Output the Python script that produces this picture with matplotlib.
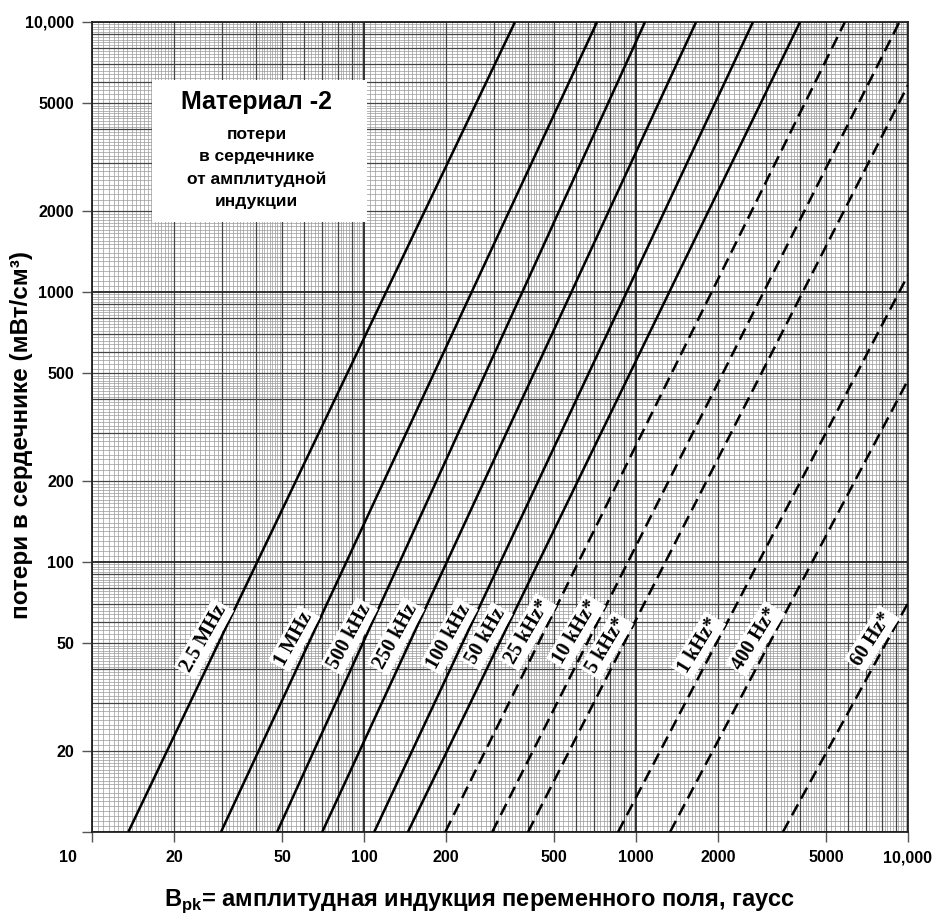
import numpy as np
import matplotlib
matplotlib.use("Agg")
import matplotlib.pyplot as plt
from matplotlib.ticker import NullLocator
from matplotlib.patches import Rectangle

# ---------------- data ----------------
freq_labels = ["2.5 MHz", "1 MHz", "500 kHz", "250 kHz", "100 kHz", "50 kHz",
               "25 kHz*", "10 kHz*", "5 kHz*", "1 kHz*", "400 Hz*", "60 Hz*"]
# flux density (gauss) where each curve crosses 10 mW/cm^3
b_start = [13.6, 29.8, 47.9, 70.2, 109, 145, 199, 296, 401, 859, 1334, 3467]
p_start = [10] * 12
# end point of each curve (where it leaves the chart)
b_end = [359, 719, 1079, 1663, 2692, 4009, 5861, 9300, 10000, 10000, 10000, 10000]
p_end = [10000, 10000, 10000, 10000, 10000, 10000, 10000, 10000, 5840, 1155, 472, 70.5]
dashed = [False] * 6 + [True] * 6
# loss level at which each label sits
label_p = [52, 52, 53, 53, 53, 53, 55, 55, 49, 49, 52, 52]

x_ticks = [10, 20, 50, 100, 200, 500, 1000, 2000, 5000, 10000]
x_tick_labels = ["", "20", "50", "100", "200", "500", "1000", "2000", "5000", "10,000"]
y_ticks = [10, 20, 50, 100, 200, 500, 1000, 2000, 5000, 10000]
y_tick_labels = ["", "20", "50", "100", "200", "500", "1000", "2000", "5000", "10,000"]

title_lines = ["потери", "в сердечнике", "от амплитудной", "индукции"]

# ---------------- figure ----------------
fig = plt.figure(figsize=(9.33, 9.15), dpi=100)
ax = fig.add_axes([92 / 933, 1 - 832 / 915, 816 / 933, 810 / 915])
ax.set_xscale("log")
ax.set_yscale("log")
ax.set_xlim(10, 10000)
ax.set_ylim(10, 10000)

# log graph-paper grid
fine, med, major = [], [], []
for e in range(1, 4):
    base = 10.0 ** e
    fine += list(base * np.arange(21, 40) / 20)
    fine += list(base * np.arange(21, 50) / 10)
    fine += list(base * np.arange(26, 50) / 5)
    med += list(base * np.arange(2, 10))
    major.append(base)
major.append(10000.0)
fine = [v for v in fine if all(abs(v - m) > 1e-6 * v for m in med)]

for vals, col, lw in [(fine, "#9a9a9a", 0.5), (med, "#444444", 0.9), (major, "#222222", 1.3)]:
    ax.vlines(vals, 10, 10000, colors=col, lw=lw, zorder=0)
    ax.hlines(vals, 10, 10000, colors=col, lw=lw, zorder=0)

# curves
for i in range(len(freq_labels)):
    ls = (0, (5, 2.6)) if dashed[i] else "-"
    ax.plot([b_start[i], b_end[i]], [p_start[i], p_end[i]], color="black",
            lw=1.8, ls=ls, zorder=3, solid_capstyle="butt")

fig.canvas.draw()
for i in range(len(freq_labels)):
    lb0, lb1 = np.log10(b_start[i]), np.log10(b_end[i])
    lp0, lp1 = np.log10(p_start[i]), np.log10(p_end[i])
    t = (np.log10(label_p[i]) - lp0) / (lp1 - lp0)
    xb = 10 ** (lb0 + t * (lb1 - lb0))
    d0 = ax.transData.transform((b_start[i], p_start[i]))
    d1 = ax.transData.transform((b_end[i], p_end[i]))
    ang = np.degrees(np.arctan2(d1[1] - d0[1], d1[0] - d0[0])) - 4
    ax.annotate(freq_labels[i], xy=(xb, label_p[i]), xytext=(-12, 0),
                textcoords="offset points", rotation=ang, ha="center", va="center",
                rotation_mode="anchor", fontsize=14.5, fontweight="bold",
                family=["Liberation Serif", "DejaVu Serif"], zorder=5,
                bbox=dict(boxstyle="square,pad=0.12", fc="white", ec="none"))

# title box
ax.add_patch(Rectangle((0.0735, 0.753), 0.264, 0.176, transform=ax.transAxes,
                       fc="white", ec="none", zorder=4))
ax.text(0.202, 0.901, "Материал -2", transform=ax.transAxes, ha="center", va="center",
        fontsize=18, fontweight="bold", family=["Liberation Sans", "DejaVu Sans"], zorder=6)
for ypos, line in zip([0.861, 0.834, 0.806, 0.779], title_lines):
    ax.text(0.202, ypos, line, transform=ax.transAxes, ha="center", va="center",
            fontsize=12.5, fontweight="bold", family=["Liberation Sans", "DejaVu Sans"], zorder=6)

# axes, ticks
for s in ax.spines.values():
    s.set_linewidth(1.3)
    s.set_color("#222222")
ax.xaxis.set_minor_locator(NullLocator())
ax.yaxis.set_minor_locator(NullLocator())
ax.set_xticks(x_ticks)
ax.set_xticklabels(x_tick_labels)
ax.set_yticks(y_ticks)
ax.set_yticklabels(y_tick_labels)
tick_family = ["Liberation Sans", "DejaVu Sans"]
for lbl in ax.get_xticklabels() + ax.get_yticklabels():
    lbl.set_fontfamily(tick_family)
    lbl.set_fontweight("bold")
    lbl.set_fontsize(11.5)
ax.tick_params(axis="both", direction="out", length=7, width=1, color="#555555", pad=6)
ax.annotate("10", xy=(10, 10), xycoords="data", xytext=(-17, -13), textcoords="offset points",
            ha="center", va="top", family=tick_family, fontweight="bold", fontsize=11.5,
            annotation_clip=False)

ax.set_ylabel("потери в сердечнике (мВт/см³)", fontsize=17.5, fontweight="bold",
              family=["Liberation Sans", "DejaVu Sans"])
ax.yaxis.set_label_coords(-0.072, 0.49)
ax.set_xlabel("B$_\\mathregular{pk}$= амплитудная индукция переменного поля, гаусс",
              fontsize=17, fontweight="bold", family=["Liberation Sans", "DejaVu Sans"])
ax.xaxis.set_label_coords(0.475, -0.068)

fig.savefig("out.png", dpi=100)
